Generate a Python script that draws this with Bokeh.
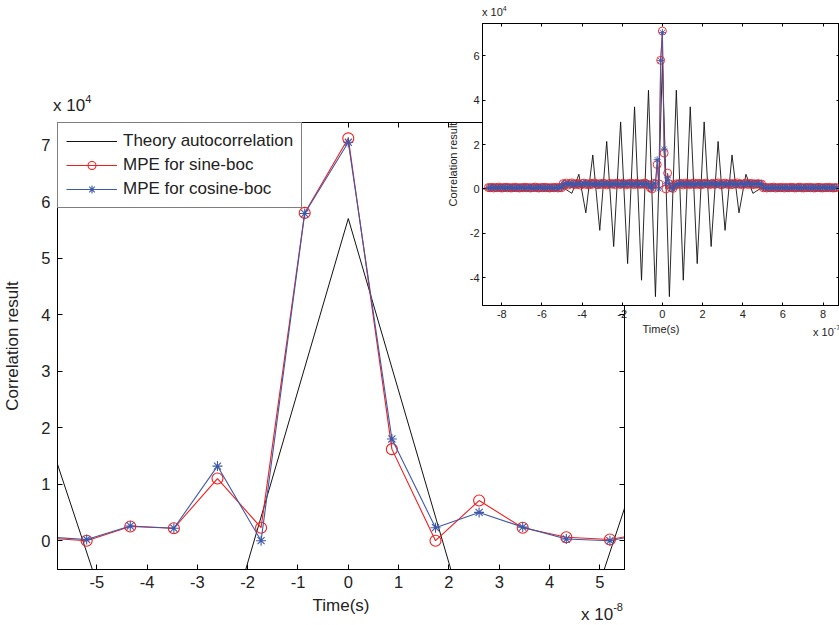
import numpy as np
from bokeh.plotting import figure
from bokeh.models import (Range1d, FixedTicker, CustomJSTickFormatter, LinearAxis,
                          Legend, LegendItem, Div)
from bokeh.embed import file_html
from bokeh.resources import INLINE

FONT = "Liberation Sans"

# ---------------- data ----------------
sample_period = 0.8667e-8          # seconds between MPE samples
mpe_lag = list(range(-100, 101))   # MPE sample index
theory_lag = list(range(-26, 27))  # theory sample index (one every 4 MPE samples)

# Correlation values, in units of 1e4
theory_autocorr = [
    0.00, 0.00, 0.00, 0.00, 0.00, 0.00, 0.00, 0.00, 0.00, 0.00, 0.00, 0.00, 0.00,
    -0.20, 0.66, -1.08, 1.53, -1.87, 2.14, -2.60, 3.02, -3.37, 3.70, -4.12, 4.45, -4.86,
    5.70,
    -4.86, 4.45, -4.12, 3.70, -3.37, 3.02, -2.60, 2.14, -1.87, 1.53, -1.08, 0.66, -0.20,
    0.00, 0.00, 0.00, 0.00, 0.00, 0.00, 0.00, 0.00, 0.00, 0.00, 0.00, 0.00, 0.00,
]

mpe_sine_boc = [
    # lag -100 .. -58
    0.06, 0.05, 0.07, 0.04, 0.06, 0.05, 0.08, 0.05, 0.04, 0.06,
    0.07, 0.05, 0.06, 0.04, 0.05, 0.07, 0.06, 0.05, 0.04, 0.06,
    0.05, 0.07, 0.05, 0.06, 0.04, 0.05, 0.06, 0.08, 0.05, 0.04,
    0.06, 0.05, 0.07, 0.05, 0.06, 0.04, 0.05, 0.06, 0.05, 0.07,
    0.04, 0.06, 0.05,
    # lag -57 .. -7
    0.24, 0.20, 0.26, 0.18, 0.23, 0.27, 0.21, 0.19, 0.25, 0.22,
    0.17, 0.24, 0.26, 0.20, 0.23, 0.18, 0.25, 0.21, 0.27, 0.22,
    0.19, 0.24, 0.20, 0.26, 0.23, 0.18, 0.22, 0.25, 0.21, 0.24,
    0.19, 0.26, 0.22, 0.20, 0.25, 0.23, 0.18, 0.24, 0.21, 0.26,
    0.22, 0.19, 0.25, 0.23, 0.20, 0.24, 0.21, 0.26, 0.22, 0.18,
    0.05,
    # lag -6 .. 7
    0.00, 0.25, 0.22, 1.10, 0.23, 5.80, 7.12, 1.62, 0.00, 0.71, 0.23, 0.06, 0.02, 0.16,
    # lag 8 .. 57
    0.23, 0.20, 0.25, 0.22, 0.18, 0.26, 0.21, 0.24, 0.19, 0.23,
    0.27, 0.20, 0.22, 0.25, 0.18, 0.24, 0.21, 0.26, 0.23, 0.19,
    0.22, 0.25, 0.20, 0.24, 0.27, 0.21, 0.18, 0.23, 0.26, 0.22,
    0.20, 0.24, 0.19, 0.25, 0.22, 0.27, 0.21, 0.23, 0.18, 0.24,
    0.26, 0.20, 0.22, 0.25, 0.19, 0.23, 0.21, 0.24, 0.20, 0.22,
    # lag 58 .. 100
    0.05, 0.07, 0.04, 0.06, 0.05, 0.06, 0.08, 0.04, 0.05, 0.06,
    0.05, 0.07, 0.04, 0.06, 0.05, 0.05, 0.07, 0.06, 0.04, 0.05,
    0.06, 0.08, 0.05, 0.04, 0.06, 0.05, 0.07, 0.05, 0.06, 0.04,
    0.05, 0.06, 0.07, 0.05, 0.04, 0.06, 0.05, 0.07, 0.05, 0.06,
    0.04, 0.05, 0.06,
]

mpe_cosine_boc = [
    # lag -100 .. -58
    0.05, 0.06, 0.05, 0.07, 0.04, 0.06, 0.05, 0.06, 0.07, 0.04,
    0.05, 0.06, 0.05, 0.07, 0.05, 0.04, 0.06, 0.05, 0.07, 0.05,
    0.06, 0.04, 0.05, 0.06, 0.07, 0.05, 0.04, 0.06, 0.05, 0.06,
    0.07, 0.05, 0.04, 0.06, 0.05, 0.07, 0.06, 0.04, 0.05, 0.06,
    0.05, 0.07, 0.05,
    # lag -57 .. -7
    0.22, 0.25, 0.19, 0.24, 0.21, 0.26, 0.20, 0.23, 0.18, 0.25,
    0.22, 0.20, 0.24, 0.27, 0.19, 0.23, 0.21, 0.25, 0.20, 0.24,
    0.22, 0.18, 0.26, 0.21, 0.23, 0.25, 0.19, 0.22, 0.24, 0.20,
    0.26, 0.21, 0.23, 0.18, 0.25, 0.22, 0.20, 0.24, 0.26, 0.19,
    0.23, 0.21, 0.25, 0.20, 0.22, 0.24, 0.19, 0.23, 0.25, 0.21,
    0.07,
    # lag -6 .. 7
    0.02, 0.26, 0.22, 1.32, 0.00, 5.79, 7.05, 1.80, 0.23, 0.50, 0.24, 0.03, 0.00, 0.15,
    # lag 8 .. 57
    0.21, 0.24, 0.20, 0.26, 0.22, 0.19, 0.25, 0.23, 0.20, 0.24,
    0.18, 0.22, 0.26, 0.21, 0.24, 0.19, 0.23, 0.25, 0.20, 0.22,
    0.27, 0.21, 0.24, 0.19, 0.23, 0.20, 0.25, 0.22, 0.18, 0.24,
    0.21, 0.26, 0.23, 0.20, 0.24, 0.19, 0.22, 0.25, 0.21, 0.23,
    0.20, 0.24, 0.26, 0.19, 0.22, 0.23, 0.21, 0.25, 0.20, 0.23,
    # lag 58 .. 100
    0.06, 0.05, 0.07, 0.04, 0.05, 0.06, 0.05, 0.07, 0.05, 0.04,
    0.06, 0.05, 0.06, 0.07, 0.04, 0.05, 0.06, 0.05, 0.07, 0.05,
    0.04, 0.06, 0.05, 0.06, 0.07, 0.05, 0.04, 0.06, 0.05, 0.07,
    0.05, 0.06, 0.04, 0.05, 0.06, 0.07, 0.05, 0.04, 0.06, 0.05,
    0.07, 0.05, 0.06,
]

main_x_ticks = [-5e-8, -4e-8, -3e-8, -2e-8, -1e-8, 0, 1e-8, 2e-8, 3e-8, 4e-8, 5e-8]
main_y_ticks = [0, 1e4, 2e4, 3e4, 4e4, 5e4, 6e4, 7e4]
inset_x_ticks = [-8e-7, -6e-7, -4e-7, -2e-7, 0, 2e-7, 4e-7, 6e-7, 8e-7]
inset_y_ticks = [-4e4, -2e4, 0, 2e4, 4e4, 6e4]

t_mpe = np.array(mpe_lag) * sample_period
t_theory = np.array(theory_lag) * 4 * sample_period
y_theory = np.array(theory_autocorr) * 1e4
y_sine = np.array(mpe_sine_boc) * 1e4
y_cosine = np.array(mpe_cosine_boc) * 1e4

RED = "#f21d1d"
BLUE = "#3d58a8"
BLACK = "#111111"
TEXT = "#222222"


def fmt(code):
    return CustomJSTickFormatter(code=code)


def style_axis(ax, ticks, formatter, font_size, tick_len, standoff):
    ax.ticker = FixedTicker(ticks=ticks)
    ax.formatter = formatter
    ax.major_tick_in = tick_len
    ax.major_tick_out = 0
    ax.minor_tick_line_color = None
    ax.axis_line_color = "black"
    ax.major_tick_line_color = "black"
    ax.major_label_text_font = FONT
    ax.major_label_text_color = TEXT
    ax.major_label_text_font_size = font_size
    ax.major_label_standoff = standoff
    ax.axis_label_text_font = FONT
    ax.axis_label_text_font_style = "normal"
    ax.axis_label_text_color = TEXT


def box_axis(fig, ticks, tick_len, side):
    ax = LinearAxis()
    style_axis(ax, ticks, fmt('return "";'), "10px", tick_len, 0)
    fig.add_layout(ax, side)


# ---------------- main plot ----------------
main = figure(width=839, height=625,
              x_range=Range1d(-5.78e-8, 5.49e-8), y_range=Range1d(-0.51e4, 7.4e4),
              output_backend="svg", toolbar_location=None,
              min_border_left=54, min_border_right=215,
              min_border_top=122, min_border_bottom=56)
main.background_fill_color = "white"
main.border_fill_color = "white"
main.outline_line_color = "black"
main.grid.grid_line_color = None

style_axis(main.xaxis[0], main_x_ticks, fmt("return Math.round(tick * 1e8).toString();"),
           "16.5px", 5, 6)
style_axis(main.yaxis[0], main_y_ticks, fmt("return Math.round(tick / 1e4).toString();"),
           "16.5px", 5, 7)
main.xaxis.axis_label = "Time(s)"
main.xaxis.axis_label_text_font_size = "17px"
main.xaxis.axis_label_standoff = 5
main.yaxis.axis_label = "Correlation result"
main.yaxis.axis_label_text_font_size = "17px"
main.yaxis.axis_label_standoff = 16
box_axis(main, main_x_ticks, 5, "above")
box_axis(main, main_y_ticks, 5, "right")

r_th = main.line(t_theory, y_theory, line_color=BLACK, line_width=1)
r_sl = main.line(t_mpe, y_sine, line_color=RED, line_width=1.1)
r_ss = main.scatter(t_mpe, y_sine, marker="circle", size=11, fill_color=None,
                    line_color=RED, line_width=1.1)
r_cl = main.line(t_mpe, y_cosine, line_color=BLUE, line_width=1.1)
r_cs = main.scatter(t_mpe, y_cosine, marker="asterisk", size=10, line_color=BLUE,
                    line_width=1.1)

legend = Legend(items=[
    LegendItem(label="Theory autocorrelation", renderers=[r_th]),
    LegendItem(label="MPE for sine-boc", renderers=[r_sl, r_ss]),
    LegendItem(label="MPE for cosine-boc", renderers=[r_cl, r_cs]),
], location="top_left")
legend.margin = 0
legend.padding = 8
legend.spacing = 4
legend.glyph_width = 51
legend.glyph_height = 20
legend.label_height = 20
legend.label_standoff = 6
legend.label_text_font = FONT
legend.label_text_font_size = "17px"
legend.label_text_color = TEXT
legend.border_line_color = "black"
legend.border_line_width = 1.5
legend.background_fill_color = "white"
legend.background_fill_alpha = 1
main.add_layout(legend)

# ---------------- inset plot ----------------
inset = figure(width=399, height=340,
               x_range=Range1d(-8.96e-7, 8.82e-7), y_range=Range1d(-5.26e4, 7.46e4),
               output_backend="svg", toolbar_location=None,
               min_border_left=42, min_border_right=0,
               min_border_top=23, min_border_bottom=35)
inset.background_fill_color = "white"
inset.border_fill_color = None
inset.outline_line_color = "black"
inset.grid.grid_line_color = None

style_axis(inset.xaxis[0], inset_x_ticks, fmt("return Math.round(tick * 1e7).toString();"),
           "11px", 3, 4)
style_axis(inset.yaxis[0], inset_y_ticks, fmt("return Math.round(tick / 1e4).toString();"),
           "11px", 3, 3)
inset.xaxis.axis_label = "Time(s)"
inset.xaxis.axis_label_text_font_size = "11px"
inset.xaxis.axis_label_standoff = 2
inset.yaxis.axis_label = "Correlation result"
inset.yaxis.axis_label_text_font_size = "11px"
inset.yaxis.axis_label_standoff = 8
box_axis(inset, inset_x_ticks, 3, "above")
box_axis(inset, inset_y_ticks, 3, "right")

inset.line(t_theory, y_theory, line_color=BLACK, line_width=0.9)
inset.line(t_mpe, y_sine, line_color=RED, line_width=0.9)
inset.scatter(t_mpe, y_sine, marker="circle", size=8, fill_color=None,
              line_color=RED, line_width=0.9)
inset.line(t_mpe, y_cosine, line_color=BLUE, line_width=0.9)
inset.scatter(t_mpe, y_cosine, marker="asterisk", size=7, line_color=BLUE,
              line_width=0.9)

inset.styles = {"position": "absolute", "left": "440px", "top": "0px", "z-index": "10"}


# ---------------- axis exponent notes ----------------
def exponent_note(base, exp, left, top, size, sup_size, raise_px, width, clip=False):
    pad = raise_px + 2
    html = (f'<div style="font-family:\'{FONT}\';font-size:{size}px;line-height:{size}px;'
            f'color:{TEXT};white-space:nowrap;padding-top:{pad}px;">{base}'
            f'<span style="position:relative;top:-{raise_px}px;font-size:{sup_size}px;">'
            f'{exp}</span></div>')
    styles = {"position": "absolute", "left": f"{left}px", "top": f"{top - pad}px",
              "z-index": "20", "margin": "0", "padding": "0"}
    if clip:
        styles["overflow"] = "hidden"
    return Div(text=html, width=width, height=size + pad + 5, styles=styles)


notes = [
    exponent_note("x 10", "4", 53, 97, 17, 11, 8, 50),
    exponent_note("x 10", "-8", 581, 606, 17, 11, 9, 50),
    exponent_note("x 10", "4", 482, 7, 11, 7, 5, 30),
    exponent_note("x 10", "-7", 813, 327, 11, 7, 6, 26, clip=True),
]

open("out.html", "w").write(file_html([main, inset] + notes, INLINE))
